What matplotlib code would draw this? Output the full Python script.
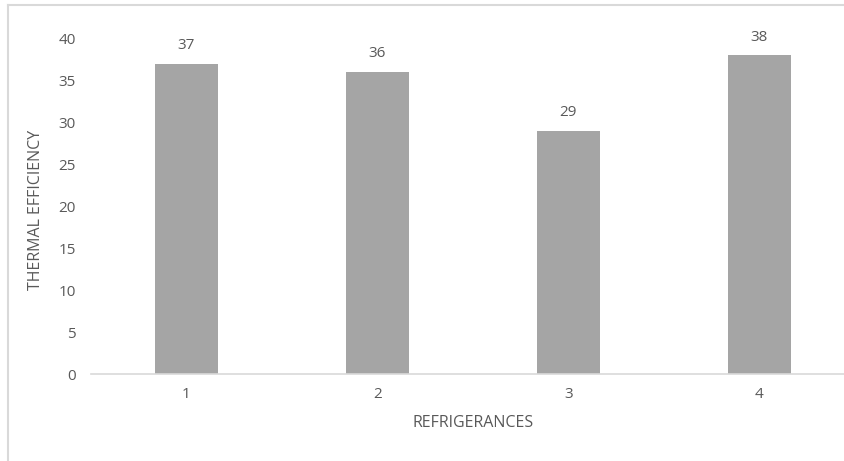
import matplotlib.pyplot as plt
from matplotlib.lines import Line2D

categories = ['1', '2', '3', '4']
efficiency = [37, 36, 29, 38]
y_ticks = [0, 5, 10, 15, 20, 25, 30, 35, 40]

W, H = 845, 461
fig = plt.figure(figsize=(W / 100, H / 100), dpi=100)
plt.rcParams['font.family'] = ['Open Sans', 'DejaVu Sans']

# plot area runs past the right edge of the picture, like the cropped original
left, right, top, bottom = 91, 855, 38.5, 374
ax = fig.add_axes([left / W, 1 - bottom / H, (right - left) / W, (bottom - top) / H])

text_color = '#595959'
x = range(len(categories))
bars = ax.bar(x, efficiency, width=0.335, color='#A5A5A5', zorder=2)

for xi, v in zip(x, efficiency):
    ax.annotate(str(v), (xi, v), xytext=(0, 13), textcoords='offset points',
                ha='center', va='center', fontsize=11, color=text_color)

ax.set_xlim(-0.5, len(categories) - 0.5)
ax.set_ylim(0, 40)
ax.set_yticks(y_ticks)
ax.set_xticks(list(x))
ax.set_xticklabels(categories)

for s in ['top', 'right', 'left']:
    ax.spines[s].set_visible(False)
ax.spines['bottom'].set_color('#D9D9D9')
ax.spines['bottom'].set_linewidth(1.2)

ax.tick_params(axis='y', length=0, pad=11, labelsize=11, labelcolor=text_color)
ax.tick_params(axis='x', length=0, pad=9, labelsize=11, labelcolor=text_color)

fig.text(473 / W, 1 - 423 / H, 'REFRIGERANCES', ha='center', va='center',
         fontsize=11.5, color=text_color)
fig.text(36 / W, 1 - 210 / H, 'THERMAL EFFICIENCY', ha='center', va='center',
         rotation=90, fontsize=11.5, color=text_color)

# chart border (left and top edges visible)
fig.add_artist(Line2D([8 / W, 8 / W], [0, 1 - 5 / H], transform=fig.transFigure,
                      color='#D9D9D9', linewidth=1.5))
fig.add_artist(Line2D([8 / W, 1], [1 - 5 / H, 1 - 5 / H], transform=fig.transFigure,
                      color='#D9D9D9', linewidth=1.5))

fig.savefig('out.png', dpi=100)
